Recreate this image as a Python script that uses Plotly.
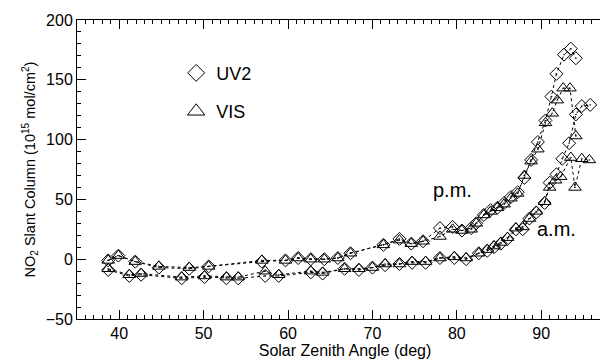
import plotly.graph_objects as go

# ---- data ----
sza_uv2_pm = [38.7, 39.9, 41.9, 44.7, 48.3, 50.6, 56.9, 59.7, 61.2, 62.7, 64.3, 65.9, 67.4,
              71.3, 73.2, 74.6, 76.0, 78.0, 79.5, 80.6, 81.7, 82.3, 83.2, 84.0, 84.8, 85.6,
              86.4, 87.2, 88.0, 88.8, 89.6, 90.5, 91.2, 91.8, 92.7, 93.5, 94.1]
uv2_pm = [-1, 3, -2, -7, -8, -6, -2, -1, 1, 0, 0, 1, 5,
          12, 17, 13, 15, 26, 27, 24, 26, 30, 37, 41, 43, 47,
          52, 56, 68, 83, 98, 116, 136, 155, 171, 176, 168]

sza_vis_pm = [38.7, 39.9, 41.9, 44.7, 48.3, 50.6, 56.9, 59.7, 61.2, 62.7, 64.3, 65.9, 67.4,
              71.3, 73.2, 74.6, 76.0, 78.0, 79.5, 80.6, 81.7, 82.3, 83.2, 84.0, 84.8, 85.6,
              86.4, 87.2, 88.0, 88.8, 89.6, 90.5, 91.3, 91.9, 92.6, 93.4, 94.1]
vis_pm = [-1, 3, -2, -6, -7, -6, -1, -1, 1, 0, 0, 1, 5,
          12, 16, 13, 15, 19, 25, 24, 25, 30, 37, 40, 43, 46,
          51, 55, 70, 82, 92, 114, 122, 133, 143, 143, 103]

sza_uv2_am = [38.7, 41.2, 42.6, 47.4, 50.1, 52.7, 54.1, 57.3, 58.9, 62.7, 64.1, 66.7, 68.4,
              70.0, 71.5, 73.2, 74.7, 76.3, 78.0, 79.7, 81.1, 82.6, 83.6, 84.4, 85.2, 86.0,
              87.0, 87.8, 88.6, 89.4, 90.4, 91.0, 91.8, 92.5, 93.3, 94.1, 94.8, 95.8]
uv2_am = [-9, -14, -13, -16, -15, -16, -16, -14, -14, -11, -12, -8, -9,
          -7, -5, -4, -3, -3, 1, 1, 0, 5, 7, 10, 13, 17,
          25, 25, 34, 39, 47, 64, 71, 84, 97, 121, 128, 129]

sza_vis_am = [38.7, 41.2, 42.6, 47.4, 50.1, 52.7, 54.1, 57.3, 58.9, 62.7, 64.1, 66.7, 68.4,
              70.0, 71.5, 73.2, 74.7, 76.3, 78.0, 79.7, 81.1, 82.6, 83.6, 84.4, 85.2, 86.0,
              87.0, 87.8, 88.6, 89.4, 90.4, 91.0, 91.7, 92.3, 93.5, 94.0, 94.8, 95.7]
vis_am = [-8, -13, -12, -15, -14, -15, -15, -10, -13, -10, -11, -8, -8,
          -7, -4, -4, -2, -2, 1, 2, 1, 5, 8, 11, 14, 18,
          26, 27, 34, 40, 48, 60, 66, 69, 85, 60, 84, 83]

legend_labels = ["UV2", "VIS"]
time_labels = ["p.m.", "a.m."]
x_ticks = [40, 50, 60, 70, 80, 90]
y_ticks = [-50, 0, 50, 100, 150, 200]

FONT = "Liberation Sans, Arial, sans-serif"

fig = go.Figure()

def add_series(x, y, symbol, size):
    fig.add_trace(go.Scatter(
        x=x, y=y, mode="lines+markers", showlegend=False,
        line=dict(color="black", width=1, dash="dot"),
        marker=dict(symbol=symbol, size=size, color="black", line=dict(width=1, color="black")),
    ))

add_series(sza_uv2_pm, uv2_pm, "diamond-open-dot", 10)
add_series(sza_uv2_am, uv2_am, "diamond-open-dot", 10)
add_series(sza_vis_pm, vis_pm, "triangle-up-open-dot", 11)
add_series(sza_vis_am, vis_am, "triangle-up-open-dot", 11)

# legend-only entries
fig.add_trace(go.Scatter(x=[None], y=[None], mode="markers", name=legend_labels[0],
                         legendgroup="a",
                         marker=dict(symbol="diamond-open", size=13, color="black",
                                     line=dict(width=1, color="black"))))
fig.add_trace(go.Scatter(x=[None], y=[None], mode="markers", name=legend_labels[1],
                         legendgroup="b",
                         marker=dict(symbol="triangle-up-open", size=15, color="black",
                                     line=dict(width=1, color="black"))))

fig.add_annotation(x=79.5, y=57.5, text=time_labels[0], showarrow=False,
                   font=dict(size=20, color="black", family=FONT))
fig.add_annotation(x=91.8, y=25.5, text=time_labels[1], showarrow=False,
                   font=dict(size=20, color="black", family=FONT))

fig.update_layout(
    width=608, height=363,
    margin=dict(l=69, r=3, t=12, b=52),
    paper_bgcolor="white", plot_bgcolor="white",
    font=dict(family=FONT, color="black", size=14),
    legend=dict(x=0.185, y=0.884, xanchor="left", yanchor="top",
                bgcolor="rgba(0,0,0,0)", font=dict(size=18, family=FONT),
                tracegroupgap=12, traceorder="grouped"),
    xaxis=dict(range=[35, 98.5], tickvals=x_ticks, ticks="inside", ticklen=9,
               tickcolor="black", showline=True, linecolor="black", linewidth=1,
               mirror="allticks", showgrid=False, zeroline=False, automargin=False,
               minor=dict(ticks="inside", dtick=1, ticklen=4, tickcolor="black"),
               tickfont=dict(size=16),
               title=dict(text="Solar Zenith Angle (deg)", font=dict(size=16), standoff=2)),
    yaxis=dict(range=[-50, 200], tickvals=y_ticks, ticks="inside", ticklen=9,
               tickcolor="black", showline=True, linecolor="black", linewidth=1,
               mirror="allticks", showgrid=False, zeroline=False, automargin=False,
               minor=dict(ticks="inside", dtick=10, ticklen=4, tickcolor="black"),
               tickfont=dict(size=16),
               title=dict(text="NO<sub>2</sub> Slant Column (10<sup>15</sup> mol/cm<sup>2</sup>)",
                          font=dict(size=14.5), standoff=6)),
)

fig.write_html("out.html")
